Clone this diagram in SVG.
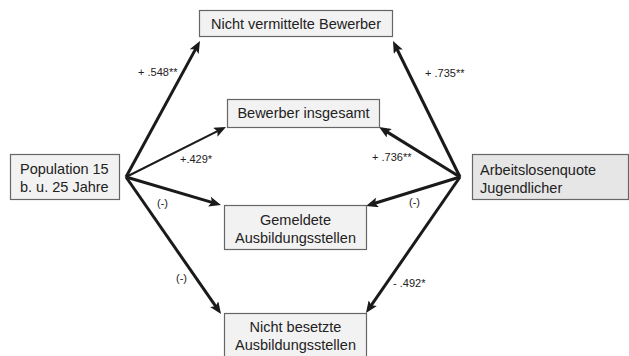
<svg xmlns="http://www.w3.org/2000/svg" width="629" height="356" viewBox="0 0 629 356">
<style>
.box{fill:#f2f2f2;stroke:#666;stroke-width:1.2}
.box2{fill:#e6e6e6;stroke:#666;stroke-width:1.2}
.t{font-family:"Liberation Sans",Arial,sans-serif;font-size:14.5px;fill:#222}
.l{font-family:"Liberation Sans",Arial,sans-serif;font-size:11px;fill:#222}
.c{stroke:#1a1a1a;fill:none;stroke-width:3}
.thin{stroke-width:2}
</style>
<defs>
<marker id="ah" markerUnits="userSpaceOnUse" viewBox="0 0 12 10" refX="7" refY="5" markerWidth="12" markerHeight="10" orient="auto">
<path d="M0,0 L12,5 L0,10 L2.5,5 z" fill="#1a1a1a"/>
</marker>
</defs>
<rect width="629" height="356" fill="#fff"/>
<g id="connectors">
<path class="c" d="M126,177 L197.6,45.4" marker-end="url(#ah)"/>
<path class="c thin" d="M126,177 L221.5,129.2" marker-end="url(#ah)"/>
<path class="c" d="M126,177 L216.2,203.6" marker-end="url(#ah)"/>
<path class="c" d="M126,177 L218.2,309.9" marker-end="url(#ah)"/>
<path class="c" d="M460,177 L395.2,45.5" marker-end="url(#ah)"/>
<path class="c" d="M460,177 L383.3,129.6" marker-end="url(#ah)"/>
<path class="c" d="M460,177 L370.8,204.5" marker-end="url(#ah)"/>
<path class="c" d="M460,177 L368.8,308.9" marker-end="url(#ah)"/>
</g>
<g id="labels">
<text class="l" x="138" y="76">+ .548**</text>
<text class="l" x="180" y="163">+.429*</text>
<text class="l" x="157" y="207">(-)</text>
<text class="l" x="176" y="282">(-)</text>
<text class="l" x="425" y="77">+ .735**</text>
<text class="l" x="372" y="161">+ .736**</text>
<text class="l" x="409" y="206">(-)</text>
<text class="l" x="393" y="287">- .492*</text>
</g>
<g id="nicht-vermittelte">
<rect class="box" x="199.5" y="10.5" width="193" height="26"/>
<text class="t" x="296" y="29" text-anchor="middle">Nicht vermittelte Bewerber</text>
</g>
<g id="bewerber-insgesamt">
<rect class="box" x="227.5" y="99.5" width="152" height="28"/>
<text class="t" x="303.5" y="118" text-anchor="middle">Bewerber insgesamt</text>
</g>
<g id="population">
<rect class="box" x="10.5" y="154.5" width="109" height="45"/>
<text class="t" x="20" y="174">Population 15</text>
<text class="t" x="20" y="192">b. u. 25 Jahre</text>
</g>
<g id="arbeitslosenquote">
<rect class="box2" x="472.5" y="154.5" width="156" height="45"/>
<text class="t" x="480" y="175">Arbeitslosenquote</text>
<text class="t" x="480" y="193">Jugendlicher</text>
</g>
<g id="gemeldete">
<rect class="box" x="224.5" y="205.5" width="142" height="44"/>
<text class="t" x="295.5" y="225" text-anchor="middle">Gemeldete</text>
<text class="t" x="295.5" y="243" text-anchor="middle">Ausbildungsstellen</text>
</g>
<g id="nicht-besetzte">
<rect class="box" x="224.5" y="313.5" width="142" height="50"/>
<text class="t" x="295.5" y="332" text-anchor="middle">Nicht besetzte</text>
<text class="t" x="295.5" y="350" text-anchor="middle">Ausbildungsstellen</text>
</g>
</svg>
